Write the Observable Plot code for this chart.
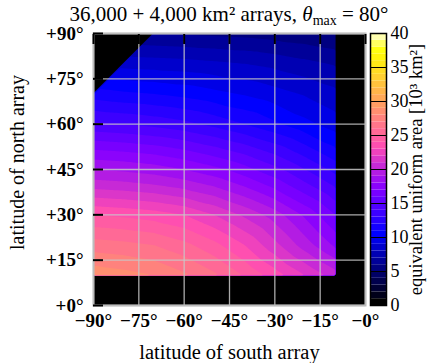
<!DOCTYPE html>
<html><head><meta charset="utf-8">
<script src="https://cdn.jsdelivr.net/npm/d3@7"></script>
<script src="https://cdn.jsdelivr.net/npm/@observablehq/plot@0.6"></script>
<style>
body{margin:0;background:#fff;}
#wrap{position:relative;width:444px;height:363px;font-family:"Liberation Serif",serif;overflow:hidden;}
#title{position:absolute;top:2px;left:0;width:458px;text-align:center;font-family:"Liberation Serif",serif;font-size:21px;line-height:24px;white-space:nowrap;}
#title sub{font-size:14px;vertical-align:-4px;line-height:0;}
#main,#cbar{position:absolute;top:0;}
#main{left:0;}
#cbar{left:365px;}
</style></head><body>
<div id="wrap"><div id="main"></div><div id="cbar"></div><div id="title">36,000 + 4,000 km² arrays, <i>θ</i><sub>max</sub> = 80°</div></div>
<script>
// latitude of south array (columns) and north array (rows, top to bottom)
const southLat = [-90, -80, -70, -60, -50, -40, -30, -20, -10];
const northLat = [90, 80, 70, 60, 50, 40, 30, 20, 10];
// equivalent uniform area [10^3 km^2]; NaN = outside valid region
const area = [
  [NaN, NaN, 6.0, 5.9, 5.8, 5.7, 5.5, 5.3, 5.0],
  [NaN, 8.6, 8.5, 8.4, 8.2, 8.0, 7.7, 7.3, 6.9],
  [11.5, 11.2, 11.0, 10.7, 10.3, 9.9, 9.4, 8.9, 8.3],
  [14.2, 14.0, 13.7, 13.3, 12.7, 12.0, 11.2, 10.3, 9.5],
  [17.5, 17.3, 17.0, 16.5, 15.8, 15.0, 14.0, 12.8, 11.5],
  [20.5, 20.3, 20.0, 19.5, 18.8, 17.8, 16.6, 15.2, 13.8],
  [24.0, 23.8, 23.5, 23.0, 22.0, 20.8, 19.5, 17.8, 16.0],
  [26.5, 26.3, 26.0, 25.3, 24.3, 23.0, 21.3, 19.5, 17.8],
  [28.7, 28.4, 28.0, 27.2, 26.2, 24.9, 23.5, 22.0, 20.5]
];
// corner beyond maximum separation (no data)
const cutCorner = [
  {south: -90, lower: 70, upper: 90},
  {south: -70, lower: 90, upper: 90}
];
const xTicks = [-90, -75, -60, -45, -30, -15, 0];
const yTicks = [0, 15, 30, 45, 60, 75, 90];
const cbTicks = [0, 5, 10, 15, 20, 25, 30, 35, 40];
const cbLevels = [0,1,2,3,4,5,6,7,8,9,10,11,12,13,14,15,16,17,18,19,20,21,22,23,24,25,26,27,28,29,30,31,32,33,34,35,36,37,38,39];
const contourLevels = cbLevels;

const points = [];
northLat.forEach((n, i) => southLat.forEach((s, j) => {
  if (Number.isFinite(area[i][j])) points.push({south: s, north: n, area: area[i][j]});
}));

function clamp(v) { return Math.max(0, Math.min(1, v)); }
function gnuplot2(t) {
  const r = clamp(t / 0.32 - 0.78125);
  const g = clamp(2 * t - 0.84);
  let b;
  if (t < 0.25) b = 4 * t;
  else if (t < 0.42) b = 1;
  else if (t < 0.92) b = -2 * t + 1.84;
  else b = t / 0.08 - 11.5;
  b = clamp(b);
  return `rgb(${Math.round(r*255)},${Math.round(g*255)},${Math.round(b*255)})`;
}
const colorOpts = {type: "linear", domain: [0, 40], interpolate: gnuplot2};
const font = "Liberation Serif";
const xFmt = d => (d > 0 ? "+" : "\u2212") + Math.abs(d) + "°";
const yFmt = d => "+" + d + "°";

const main = Plot.plot({
  width: 444, height: 363,
  marginLeft: 93, marginRight: 79, marginTop: 33, marginBottom: 58,
  style: {fontFamily: font, fontSize: "16px", background: "transparent", overflow: "visible"},
  x: {domain: [-90, 0]},
  y: {domain: [0, 90]},
  color: colorOpts,
  marks: [
    Plot.frame({fill: "black"}),
    Plot.contour(points, {x: "south", y: "north", value: "area", fill: "value",
      thresholds: contourLevels, interpolate: "barycentric",
      x1: -90, x2: -10, y1: 10, y2: 90, stroke: "none"}),
    Plot.areaY(cutCorner, {x: "south", y1: "lower", y2: "upper", fill: "black"}),
    Plot.gridX(xTicks, {stroke: "#c8c8c8", strokeOpacity: 0.85, strokeWidth: 1.3}),
    Plot.gridY(yTicks, {stroke: "#c8c8c8", strokeOpacity: 0.85, strokeWidth: 1.3}),
    Plot.frame({stroke: "#bdbdbd", strokeWidth: 2}),
    Plot.axisY(yTicks, {anchor: "left", tickSize: 10, dx: 10, tickFormat: () => "", label: null, stroke: "black", strokeWidth: 2}),
    Plot.axisX(xTicks, {anchor: "top", tickSize: 10, dy: 10, tickFormat: () => "", label: null, stroke: "black", strokeWidth: 2}),
    Plot.axisY(yTicks, {anchor: "left", tickSize: 0, tickPadding: 10, tickFormat: yFmt, label: null, fontWeight: "bold", fontSize: 19}),
    Plot.axisX(xTicks, {anchor: "bottom", tickSize: 0, tickPadding: 8, tickFormat: xFmt, label: null, fontWeight: "bold", fontSize: 19}),
    Plot.text(["latitude of north array"], {frameAnchor: "left", rotate: -90, textAnchor: "middle", lineAnchor: "middle", dx: -76, dy: -7, fontSize: 20}),
    Plot.text(["latitude of south array"], {frameAnchor: "bottom", textAnchor: "middle", lineAnchor: "middle", dy: 47, fontSize: 20.5})
  ]
});
document.getElementById("main").appendChild(main);

const cbar = Plot.plot({
  width: 79, height: 363,
  marginLeft: 5, marginRight: 58, marginTop: 33, marginBottom: 58,
  style: {fontFamily: font, fontSize: "16px", background: "transparent", overflow: "visible"},
  y: {domain: [0, 40]},
  color: colorOpts,
  marks: [
    Plot.rect(cbLevels, {y1: d => d, y2: d => d + 1, fill: d => d}),
    Plot.ruleY(cbTicks, {stroke: "black", strokeWidth: 1}),
    Plot.frame({stroke: "black", strokeWidth: 1.5}),
    Plot.axisY(cbTicks, {anchor: "right", tickSize: 0, tickPadding: 4, label: null, fontSize: 18}),
    Plot.text(["equivalent uniform area [10³ km²]"], {frameAnchor: "right", rotate: -90, textAnchor: "middle", lineAnchor: "middle", dx: 30, fontSize: 18.5})
  ]
});
document.getElementById("cbar").appendChild(cbar);
</script>
</body></html>
